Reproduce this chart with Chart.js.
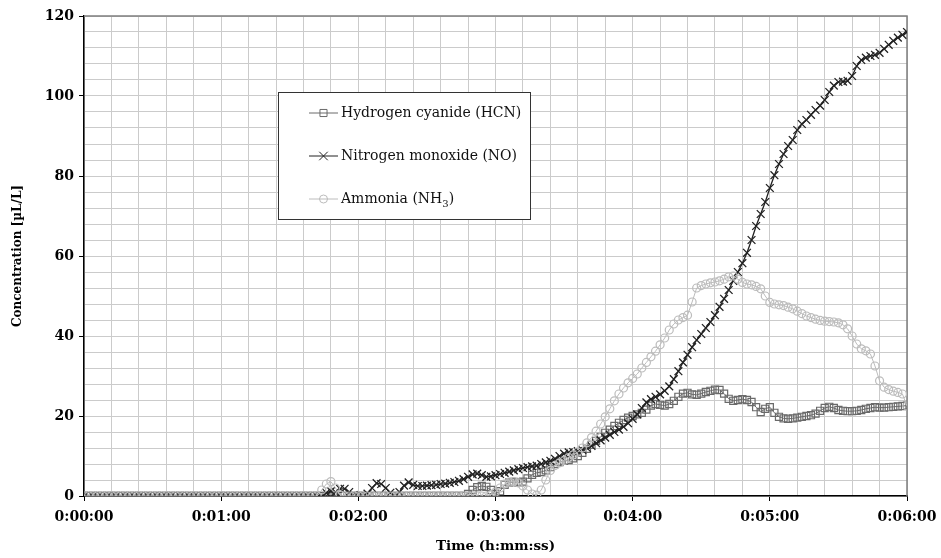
<!DOCTYPE html>
<html>
<head>
<meta charset="utf-8">
<script src="https://cdn.jsdelivr.net/npm/chart.js@4.4.1/dist/chart.umd.min.js"></script>
<style>
  html, body { margin: 0; padding: 0; background: #fff; }
  #wrap { width: 941px; height: 558px; position: relative; }
</style>
</head>
<body>
<div id="wrap"><canvas id="gasChart"></canvas></div>
<script>
// readings every 2 s, from 0:00:00 to 0:06:00
const sampleStep = 2;

const hcnValues = [
  0, 0, 0, 0, 0, 0, 0, 0, 0, 0,
  0, 0, 0, 0, 0, 0, 0, 0, 0, 0,
  0, 0, 0, 0, 0, 0, 0, 0, 0, 0,
  0, 0, 0, 0, 0, 0, 0, 0, 0, 0,
  0, 0, 0, 0, 0, 0, 0, 0, 0, 0,
  0, 0, 0, 0, 0, 0, 0, 0, 0, 0,
  0, 0, 0, 0, 0, 0, 0, 0, 0, 0,
  0, 0, 0, 0, 0, 0, 0, 0, 0, 0,
  0, 0, 0, 0, 0.5, 1.5, 2.2, 2.5, 2.3, 1.5,
  0.5, 1.2, 2.8, 3.4, 3.5, 3.4, 3.6, 4.4, 5.3, 5.8,
  6.0, 6.4, 7.2, 8.0, 8.5, 8.8, 9.0, 9.4, 10.0, 10.8,
  11.8, 12.8, 13.8, 14.8, 15.8, 16.6, 17.5, 18.3, 19.0, 19.6,
  20.0, 20.4, 20.8, 21.6, 22.6, 23.0, 22.8, 22.6, 23.0, 23.8,
  24.8, 25.6, 25.8, 25.4, 25.3, 25.6, 26.0, 26.3, 26.6, 26.5,
  25.6, 24.3, 23.8, 24.0, 24.2, 24.0, 23.5, 22.2, 21.0, 21.8,
  22.2, 20.8, 19.8, 19.4, 19.3, 19.4, 19.6, 19.8, 20.0, 20.2,
  20.6, 21.3, 22.0, 22.3, 22.0, 21.5, 21.3, 21.2, 21.2, 21.3,
  21.5, 21.8, 22.0, 22.2, 22.1, 22.1, 22.2, 22.3, 22.4, 22.5,
  22.6
];

const noValues = [
  0, 0, 0, 0, 0, 0, 0, 0, 0, 0,
  0, 0, 0, 0, 0, 0, 0, 0, 0, 0,
  0, 0, 0, 0, 0, 0, 0, 0, 0, 0,
  0, 0, 0, 0, 0, 0, 0, 0, 0, 0,
  0, 0, 0, 0, 0, 0, 0, 0, 0, 0,
  0, 0, 0, 0.8, 1.2, 1.0, 1.8, 1.8, 1.0, 0.2,
  0, 0, 0.6, 2.0, 3.2, 3.0, 2.0, 0.8, 0, 1.0,
  2.6, 3.4, 2.8, 2.5, 2.5, 2.6, 2.7, 2.8, 3.0, 3.1,
  3.3, 3.5, 3.8, 4.2, 4.8, 5.4, 5.6, 5.2, 4.8, 4.9,
  5.2, 5.5, 5.8, 6.1, 6.4, 6.7, 7.0, 7.2, 7.4, 7.6,
  8.0, 8.4, 8.8, 9.3, 10.0, 10.6, 10.9, 11.0, 11.2, 11.5,
  12.0, 12.5, 13.2, 13.9, 14.6, 15.3, 16.0, 16.6, 17.3, 18.2,
  19.3, 20.4, 22.0, 23.4, 24.2, 24.8, 25.4, 26.3, 27.4, 29.2,
  31.2, 33.4, 35.3, 37.2, 39.0, 40.5, 42.0, 43.5, 45.2, 47.3,
  49.3, 51.5, 53.8, 56.0, 58.2, 60.8, 64.0, 67.5, 70.5, 73.5,
  77.0, 80.2, 83.0, 85.5, 87.5, 89.0, 91.5, 93.0, 94.0, 95.3,
  96.5, 97.6, 99.0, 101.0, 102.6, 103.5, 103.6, 103.8, 105.0, 107.5,
  109.0, 109.6, 110.0, 110.3, 110.8, 111.8, 112.8, 113.8, 114.6, 115.3,
  116.0
];

const nh3Values = [
  0, 0, 0, 0, 0, 0, 0, 0, 0, 0,
  0, 0, 0, 0, 0, 0, 0, 0, 0, 0,
  0, 0, 0, 0, 0, 0, 0, 0, 0, 0,
  0, 0, 0, 0, 0, 0, 0, 0, 0, 0,
  0, 0, 0, 0, 0, 0, 0, 0, 0, 0,
  0, 0, 1.5, 3.0, 3.6, 2.0, 0.3, 0, 0, 0,
  0, 0, 0, 0, 0, 0, 0, 0, 0, 0,
  0, 0, 0, 0, 0, 0, 0, 0, 0, 0,
  0, 0, 0, 0, 0, 0, 0, 0, 0, 0.3,
  1.0, 2.0, 3.0, 3.5, 3.6, 3.3, 2.5, 1.5, 0.5, 0.2,
  1.5, 4.0, 6.4, 7.6, 8.3, 8.9, 9.6, 10.3, 11.0, 12.0,
  13.3, 14.6, 16.2, 18.0, 19.8, 21.8, 23.8, 25.5, 27.0, 28.3,
  29.4, 30.5, 32.0, 33.4, 34.8, 36.2, 37.8, 39.5, 41.5, 43.0,
  44.0, 44.6, 45.2, 48.5, 52.0, 52.6, 53.0, 53.3, 53.5, 53.8,
  54.2, 54.8, 55.0, 54.2, 53.4, 53.0, 52.8, 52.4, 51.8, 50.0,
  48.4, 48.0, 47.8, 47.6, 47.2, 46.8, 46.2, 45.6, 45.0, 44.6,
  44.2, 43.9, 43.7, 43.6, 43.5, 43.3, 42.8, 41.8, 40.0, 38.0,
  36.8, 36.3, 35.5, 32.5, 28.8, 27.2, 26.6, 26.2, 25.9, 25.5,
  22.5
];

const timeTickLabels = ["0:00:00", "0:01:00", "0:02:00", "0:03:00", "0:04:00", "0:05:00", "0:06:00"];
const concTickLabels = ["0", "20", "40", "60", "80", "100", "120"];
const seriesLabels = ["Hydrogen cyanide (HCN)", "Nitrogen monoxide (NO)", "Ammonia (NH"];

const hcnColor = "#6a6a6a", noColor = "#222222", nh3Color = "#bcbcbc";
const serif = '"DejaVu Serif", serif';

function toPoints(values) {
  return values.map((v, i) => ({ x: i * sampleStep, y: v }));
}

function drawMarker(ctx, style, x, y, r, color, w) {
  ctx.save();
  ctx.strokeStyle = color;
  ctx.lineWidth = w;
  ctx.beginPath();
  if (style === "rect") {
    const s = r / Math.SQRT2;
    ctx.rect(x - s, y - s, 2 * s, 2 * s);
  } else if (style === "crossRot") {
    const s = r * Math.SQRT1_2;
    ctx.moveTo(x - s, y - s); ctx.lineTo(x + s, y + s);
    ctx.moveTo(x - s, y + s); ctx.lineTo(x + s, y - s);
  } else {
    ctx.arc(x, y, r, 0, Math.PI * 2);
  }
  ctx.stroke();
  ctx.restore();
}

// gray top and right edges of the plot area
const frameEdges = {
  id: "frameEdges",
  beforeDatasetsDraw(chart) {
    const { ctx, chartArea: a } = chart;
    ctx.save();
    ctx.strokeStyle = "#7f7f7f";
    ctx.lineWidth = 1.5;
    ctx.beginPath();
    ctx.moveTo(a.left, a.top);
    ctx.lineTo(a.right, a.top);
    ctx.lineTo(a.right, a.bottom);
    ctx.stroke();
    ctx.restore();
  }
};

// boxed legend inside the plot
const boxLegend = {
  id: "boxLegend",
  afterDraw(chart) {
    const ctx = chart.ctx;
    ctx.save();
    ctx.fillStyle = "#fff";
    ctx.fillRect(278.5, 92.5, 252, 127);
    ctx.strokeStyle = "#333";
    ctx.lineWidth = 1;
    ctx.strokeRect(278.5, 92.5, 252, 127);

    const rows = [
      { y: 113, color: hcnColor, style: "rect", r: 5 },
      { y: 156, color: noColor, style: "crossRot", r: 6 },
      { y: 199, color: nh3Color, style: "circle", r: 4 }
    ];
    ctx.font = "14px " + serif;
    ctx.textBaseline = "middle";
    rows.forEach((row, i) => {
      ctx.strokeStyle = row.color;
      ctx.lineWidth = 1;
      ctx.beginPath();
      ctx.moveTo(309, row.y);
      ctx.lineTo(338, row.y);
      ctx.stroke();
      drawMarker(ctx, row.style, 323.5, row.y, row.r, row.color, 1);
      ctx.fillStyle = "#111";
      ctx.fillText(seriesLabels[i], 341, row.y);
      if (i === 2) {
        let x = 341 + ctx.measureText(seriesLabels[i]).width;
        ctx.font = "10px " + serif;
        ctx.fillText("3", x, row.y + 5);
        x += ctx.measureText("3").width;
        ctx.font = "14px " + serif;
        ctx.fillText(")", x, row.y);
      }
    });
    ctx.restore();
  }
};

const ctx = document.getElementById("gasChart").getContext("2d");
const gasChart = new Chart(ctx, {
  type: "line",
  data: {
    datasets: [
      {
        label: seriesLabels[0],
        data: toPoints(hcnValues),
        borderColor: hcnColor,
        borderWidth: 1,
        pointStyle: "rect",
        pointRadius: 5,
        pointBorderColor: hcnColor,
        pointBackgroundColor: "rgba(0,0,0,0)",
        pointBorderWidth: 1.2,
        order: 3
      },
      {
        label: seriesLabels[1],
        data: toPoints(noValues),
        borderColor: noColor,
        borderWidth: 1.3,
        pointStyle: "crossRot",
        pointRadius: 5.5,
        pointBorderColor: noColor,
        pointBorderWidth: 1.3,
        order: 2
      },
      {
        label: seriesLabels[2] + "3)",
        data: toPoints(nh3Values),
        borderColor: nh3Color,
        borderWidth: 1,
        pointStyle: "circle",
        pointRadius: 4,
        pointBorderColor: nh3Color,
        pointBackgroundColor: "rgba(0,0,0,0)",
        pointBorderWidth: 1.2,
        order: 1
      }
    ]
  },
  options: {
    responsive: true,
    maintainAspectRatio: false,
    animation: false,
    layout: { padding: { top: 16, right: 34, left: 0, bottom: 0 } },
    plugins: { legend: { display: false }, tooltip: { enabled: false } },
    scales: {
      x: {
        type: "linear",
        min: 0,
        max: 360,
        afterFit: s => {
          s.height = 62;
          s.paddingRight = 30; // keep the plot's right edge where the original has it
        },
        ticks: {
          stepSize: 12,
          autoSkip: false,
          maxRotation: 0,
          padding: 8,
          color: "#000",
          font: { family: serif, size: 14, weight: "bold" },
          callback: v => (Math.round(v) % 60 === 0 ? timeTickLabels[Math.round(v) / 60] : "")
        },
        grid: {
          color: "#cbcbcb",
          lineWidth: 1,
          tickLength: 5,
          tickColor: c => (c.tick && Math.round(c.tick.value) % 60 === 0 ? "#000" : "rgba(0,0,0,0)")
        },
        border: { color: "#000", width: 1.5 },
        title: {
          display: true,
          text: "Time (h:mm:ss)",
          color: "#000",
          font: { family: serif, size: 13.5, weight: "bold" },
          padding: { top: 0, bottom: 3 }
        }
      },
      y: {
        min: 0,
        max: 120,
        afterFit: s => { s.width = 84; },
        ticks: {
          stepSize: 4,
          autoSkip: false,
          padding: 5,
          color: "#000",
          font: { family: serif, size: 14, weight: "bold" },
          callback: v => (Math.round(v) % 20 === 0 ? concTickLabels[Math.round(v) / 20] : "")
        },
        grid: {
          color: "#cbcbcb",
          lineWidth: 1,
          tickLength: 5,
          tickColor: c => (c.tick && Math.round(c.tick.value) % 20 === 0 ? "#000" : "rgba(0,0,0,0)")
        },
        border: { color: "#000", width: 1.5 },
        title: {
          display: true,
          text: "Concentration [µL/L]",
          color: "#000",
          font: { family: serif, size: 12, weight: "bold" },
          padding: { top: 11, bottom: 0 }
        }
      }
    }
  },
  plugins: [frameEdges, boxLegend]
});
</script>
</body>
</html>
